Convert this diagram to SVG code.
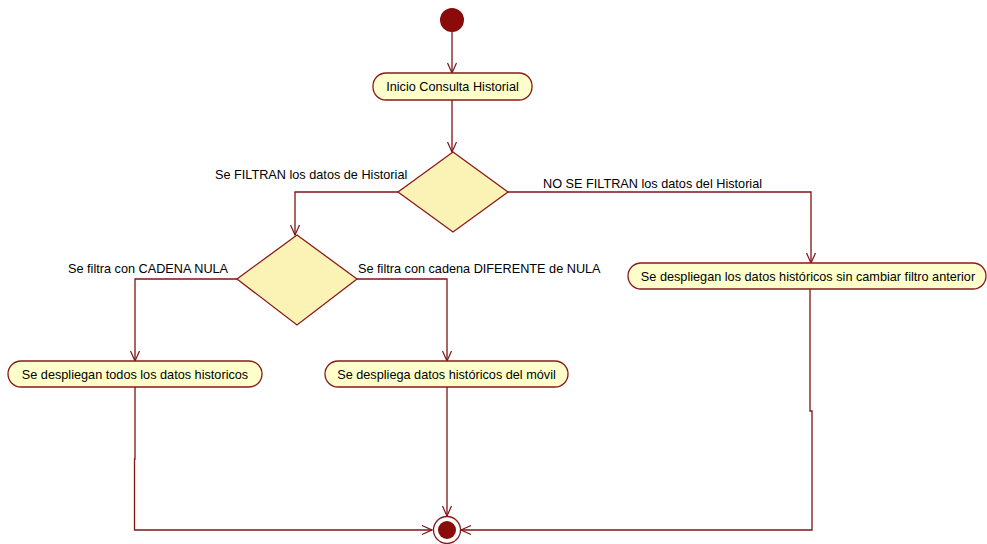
<svg xmlns="http://www.w3.org/2000/svg" width="987" height="544" viewBox="0 0 987 544">
  <style>
    .action { fill: #ffffcc; stroke: #8b1a1a; stroke-width: 1.3; }
    .decision { fill: #fbf2b6; stroke: #8b1a1a; stroke-width: 1.3; }
    .flow { fill: none; stroke: #7d1515; stroke-width: 1.3; marker-end: url(#open); }
    .lbl { font-family: "Liberation Sans", Arial, sans-serif; font-size: 12.7px; fill: #000; }
  </style>
  <defs>
    <marker id="open" viewBox="0 0 12 12" refX="11" refY="6" markerWidth="12" markerHeight="12" markerUnits="userSpaceOnUse" orient="auto">
      <path d="M1,1.5 L11,6 L1,10.5" fill="none" stroke="#7d1515" stroke-width="1.2"/>
    </marker>
  </defs>

  <rect width="987" height="544" fill="#ffffff"/>

  <!-- connectors -->
  <g id="connectors">
    <path class="flow" d="M452,32 L452,73"/>
    <path class="flow" d="M452,100 L452,152"/>
    <path class="flow" d="M398,192 L295,192 L295,235"/>
    <path class="flow" d="M508,192 L811,192 L811,263"/>
    <path class="flow" d="M237,279 L135,279 L135,361"/>
    <path class="flow" d="M357,279 L447,279 L447,361"/>
    <path class="flow" d="M135,387 L135,459 L134.5,459 L134.5,530 L432,530"/>
    <path class="flow" d="M447,387 L447,516"/>
    <path class="flow" d="M810,288 L810,411 L812,411 L812,530 L461,530"/>
  </g>

  <!-- start -->
  <g id="start">
    <circle cx="452" cy="20" r="12" fill="#8b0a0a"/>
  </g>

  <g id="inicio">
    <rect class="action" x="373" y="73" width="159" height="27" rx="13" ry="13"/>
    <text class="lbl" x="452.5" y="91" text-anchor="middle">Inicio Consulta Historial</text>
  </g>

  <g id="decision-filtrar">
    <polygon class="decision" points="453,152 508,192 453,232 398,192"/>
  </g>
  <text class="lbl" x="215" y="179">Se FILTRAN los datos de Historial</text>
  <text class="lbl" x="543" y="188">NO SE FILTRAN los datos del Historial</text>

  <g id="decision-cadena">
    <polygon class="decision" points="297,235 357,279 297,325 237,279"/>
  </g>
  <text class="lbl" x="68" y="273">Se filtra con CADENA NULA</text>
  <text class="lbl" x="358" y="273">Se filtra con cadena DIFERENTE de NULA</text>

  <g id="todos">
    <rect class="action" x="8" y="361" width="254" height="26" rx="13" ry="13"/>
    <text class="lbl" x="135" y="379" text-anchor="middle">Se despliegan todos los datos historicos</text>
  </g>

  <g id="movil">
    <rect class="action" x="325" y="361" width="243" height="26" rx="13" ry="13"/>
    <text class="lbl" x="446.5" y="379" text-anchor="middle">Se despliega datos históricos del móvil</text>
  </g>

  <g id="sin-filtro">
    <rect class="action" x="628" y="263" width="358" height="26" rx="13" ry="13"/>
    <text class="lbl" x="808" y="281" text-anchor="middle">Se despliegan los datos históricos sin cambiar filtro anterior</text>
  </g>

  <!-- end -->
  <g id="end">
    <circle cx="447" cy="530" r="13.5" fill="#ffffff" stroke="#8b1a1a" stroke-width="1.3"/>
    <circle cx="447" cy="530" r="9" fill="#8b0a0a"/>
  </g>
</svg>
